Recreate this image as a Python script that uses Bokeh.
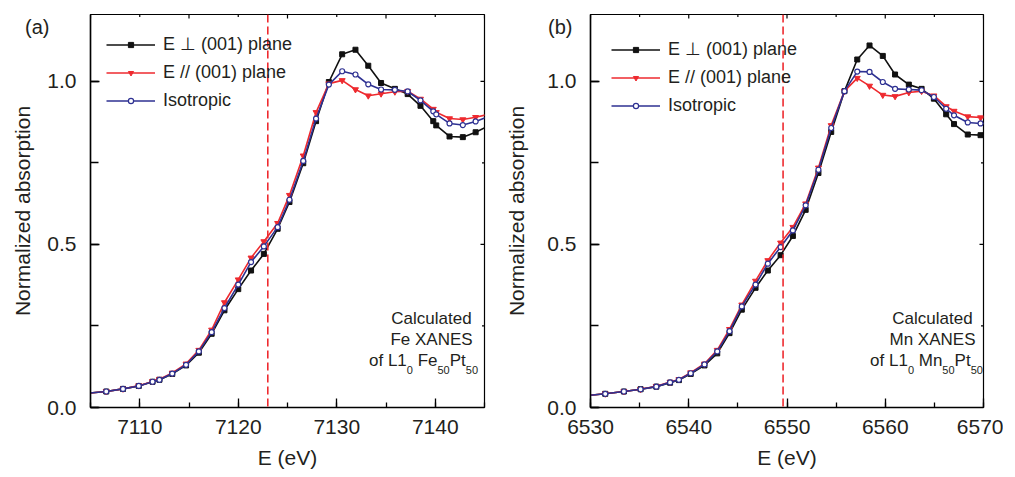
from bokeh.plotting import figure
from bokeh.layouts import row
from bokeh.models import (LinearAxis, SingleIntervalTicker, FixedTicker, NumeralTickFormatter,
                          Span, Legend, LegendItem, Range1d, Label)
from bokeh.embed import file_html
from bokeh.resources import INLINE

# ---------------- data ----------------
labels = ["E \u22a5 (001) plane", "E // (001) plane", "Isotropic"]

E_fe = [7104.0, 7106.6, 7108.3, 7109.9, 7111.3, 7112.0, 7113.3, 7114.7, 7116.0, 7117.3,
        7118.6, 7120.0, 7121.3, 7122.6, 7124.0, 7125.2, 7126.6, 7127.9, 7129.2, 7130.55,
        7131.9, 7133.2, 7134.5, 7135.9, 7137.2, 7138.5, 7139.8, 7140.1, 7141.45, 7142.8,
        7144.1, 7145.4]
fe_perp = [0.042, 0.049, 0.057, 0.066, 0.079, 0.085, 0.103, 0.129, 0.168, 0.226,
           0.298, 0.363, 0.420, 0.471, 0.548, 0.630, 0.749, 0.878, 0.998, 1.083,
           1.097, 1.048, 0.995, 0.977, 0.961, 0.925, 0.878, 0.865, 0.831, 0.829,
           0.844, 0.863]
fe_par = [0.042, 0.049, 0.057, 0.067, 0.080, 0.087, 0.106, 0.134, 0.176, 0.238,
          0.322, 0.392, 0.459, 0.509, 0.565, 0.651, 0.772, 0.905, 0.993, 1.003,
          0.975, 0.956, 0.962, 0.968, 0.970, 0.946, 0.915, 0.905, 0.886, 0.883,
          0.890, 0.899]
fe_iso = [0.042, 0.049, 0.057, 0.066, 0.079, 0.085, 0.104, 0.131, 0.172, 0.231,
          0.305, 0.377, 0.446, 0.494, 0.553, 0.637, 0.756, 0.886, 0.990, 1.031,
          1.021, 0.991, 0.975, 0.974, 0.969, 0.942, 0.908, 0.899, 0.871, 0.866,
          0.877, 0.892]

E_mn = [6528.5, 6531.5, 6533.4, 6535.1, 6536.7, 6538.1, 6539.0, 6540.2, 6541.6, 6542.9,
        6544.15, 6545.4, 6546.8, 6548.05, 6549.35, 6550.6, 6551.9, 6553.2, 6554.5, 6555.85,
        6557.15, 6558.4, 6559.75, 6561.0, 6562.4, 6563.7, 6564.95, 6566.2, 6567.0, 6568.4,
        6569.7, 6571.0]
mn_perp = [0.033, 0.042, 0.049, 0.056, 0.064, 0.076, 0.084, 0.103, 0.129, 0.166,
           0.228, 0.300, 0.367, 0.420, 0.467, 0.526, 0.606, 0.719, 0.845, 0.970,
           1.067, 1.110, 1.078, 1.021, 0.990, 0.977, 0.947, 0.899, 0.869, 0.837,
           0.835, 0.834]
mn_par = [0.033, 0.042, 0.049, 0.056, 0.065, 0.078, 0.086, 0.107, 0.134, 0.176,
          0.240, 0.315, 0.388, 0.451, 0.505, 0.553, 0.625, 0.735, 0.865, 0.970,
          1.010, 0.986, 0.958, 0.954, 0.966, 0.970, 0.956, 0.923, 0.909, 0.892,
          0.889, 0.888]
mn_iso = [0.033, 0.042, 0.049, 0.056, 0.064, 0.077, 0.085, 0.105, 0.132, 0.172,
          0.234, 0.310, 0.377, 0.441, 0.492, 0.543, 0.620, 0.729, 0.857, 0.970,
          1.030, 1.029, 0.998, 0.977, 0.975, 0.973, 0.952, 0.916, 0.896, 0.874,
          0.871, 0.870]

ann_fe_title = ["Calculated", "Fe XANES"]
ann_mn_title = ["Calculated", "Mn XANES"]
# (text, is_subscript)
ann_fe_formula = [("of L1", False), ("0", True), ("Fe", False), ("50", True),
                  ("Pt", False), ("50", True)]
ann_mn_formula = [("of L1", False), ("0", True), ("Mn", False), ("50", True),
                  ("Pt", False), ("50", True)]

FONT = "Liberation Sans"
TXT = "#231f20"
BLACK = "#111111"
RED = "#ee2a2f"
BLUE = "#2e3192"

# approximate Arial advance widths (per 1000 em) for layout of the formula pieces
AW = {"o": 556, "f": 278, " ": 278, "L": 556, "1": 556, "0": 556, "5": 556, "F": 611,
      "e": 556, "P": 667, "t": 278, "M": 833, "n": 556}
MAIN_FS = 17
SUB_FS = 11

FH = 393
Y_END = 1.205


def tw(s, fs):
    return sum(AW.get(c, 556) for c in s) * fs / 1000.0


def make_panel(E, perp, par, iso, xr, edge, title_lines, formula, tag, title_cx, formula_cx,
               legend_margin, right_border, left_border, fw,
               tag_standoff, ylab_standoff):
    p = figure(output_backend="svg", toolbar_location=None,
               frame_width=fw, frame_height=FH,
               min_border_left=left_border, min_border_right=right_border,
               min_border_top=14, min_border_bottom=62,
               x_range=Range1d(*xr), y_range=Range1d(0, Y_END),
               x_axis_label="E (eV)")
    p.grid.visible = False
    p.outline_line_color = "black"
    p.outline_line_width = 1.2
    p.background_fill_color = "white"
    p.border_fill_color = "white"

    xt = SingleIntervalTicker(interval=10, num_minor_ticks=2)
    yt = SingleIntervalTicker(interval=0.5, num_minor_ticks=2)
    p.xaxis.ticker = xt
    p.yaxis.ticker = yt
    p.yaxis.formatter = NumeralTickFormatter(format="0.0")

    for ax in (p.xaxis[0], p.yaxis[0]):
        ax.axis_line_width = 1.5
        ax.major_tick_out = 0
        ax.minor_tick_out = 0
        ax.major_tick_in = 9
        ax.major_tick_line_width = 1.3
        ax.minor_tick_line_width = 1.3
        ax.major_label_text_font = FONT
        ax.major_label_text_font_size = "21px"
        ax.major_label_text_color = TXT
        ax.axis_label_text_font = FONT
        ax.axis_label_text_font_size = "21px"
        ax.axis_label_text_font_style = "normal"
        ax.axis_label_text_color = TXT
    p.xaxis[0].minor_tick_in = 5
    p.yaxis[0].minor_tick_in = 8
    p.xaxis[0].major_label_standoff = 12
    p.xaxis[0].axis_label_standoff = 9
    p.yaxis[0].major_label_standoff = 14

    # outer left axis: carries the panel tag and the y-axis title
    tag_y = 1.166
    tag_axis = LinearAxis(ticker=FixedTicker(ticks=[tag_y], minor_ticks=[]),
                          major_label_overrides={tag_y: tag},
                          axis_line_alpha=0, major_tick_in=0, major_tick_out=0,
                          minor_tick_in=0, minor_tick_out=0,
                          major_label_standoff=tag_standoff,
                          major_label_text_font=FONT, major_label_text_font_size="20px",
                          major_label_text_color=TXT,
                          axis_label="Normalized absorption",
                          axis_label_standoff=ylab_standoff,
                          axis_label_text_font=FONT, axis_label_text_font_size="21px",
                          axis_label_text_font_style="normal", axis_label_text_color=TXT)
    p.add_layout(tag_axis, "left")

    # mirrored inward ticks on top and right spines
    pxx = fw / (xr[1] - xr[0])
    pxy = FH / Y_END
    xmaj = list(range(int(xr[0]), int(xr[1]) + 1, 10))
    xmin = [v + 5 for v in xmaj if v + 5 <= xr[1]] + [v - 5 for v in xmaj[:1] if v - 5 >= xr[0]]
    p.segment(x0=xmaj, y0=[Y_END] * len(xmaj), x1=xmaj, y1=[Y_END - 4 / pxy] * len(xmaj),
              line_color="black", line_width=1.2)
    p.segment(x0=xmin, y0=[Y_END] * len(xmin), x1=xmin, y1=[Y_END - 2.5 / pxy] * len(xmin),
              line_color="black", line_width=1.2)
    ymaj = [0.0, 0.5, 1.0]
    ymin = [0.25, 0.75]
    p.segment(x0=[xr[1]] * 3, y0=ymaj, x1=[xr[1] - 4 / pxx] * 3, y1=ymaj,
              line_color="black", line_width=1.2)
    p.segment(x0=[xr[1]] * 2, y0=ymin, x1=[xr[1] - 2.5 / pxx] * 2, y1=ymin,
              line_color="black", line_width=1.2)

    span = Span(location=edge, dimension="height", line_color=RED,
                line_dash="8 4", line_width=1.6)
    p.add_layout(span)

    l1 = p.line(E, perp, line_color=BLACK, line_width=1.6)
    m1 = p.scatter(E, perp, marker="square", size=5, fill_color=BLACK, line_color=BLACK)
    l2 = p.line(E, par, line_color=RED, line_width=1.6)
    m2 = p.scatter(E, par, marker="inverted_triangle", size=6, fill_color=RED, line_color=RED)
    l3 = p.line(E, iso, line_color=BLUE, line_width=1.6)
    m3 = p.scatter(E, iso, marker="circle", size=5, fill_color="white", line_color=BLUE,
                   line_width=1.2)

    legend = Legend(items=[LegendItem(label=labels[0], renderers=[l1, m1]),
                           LegendItem(label=labels[1], renderers=[l2, m2]),
                           LegendItem(label=labels[2], renderers=[l3, m3])],
                    location="top_left", margin=legend_margin, padding=8,
                    border_line_alpha=0, background_fill_alpha=0,
                    glyph_width=49, glyph_height=13, label_height=28, spacing=0,
                    label_standoff=8, label_text_font=FONT,
                    label_text_font_size="18px", label_text_color=TXT)
    p.add_layout(legend)

    # annotation block (centres in screen px from frame left / top)
    row_px = [304, 325]
    for t, rp in zip(title_lines, row_px):
        p.add_layout(Label(x=xr[0] + title_cx / pxx, y=Y_END - rp / pxy, text=t,
                           text_align="center", text_baseline="middle", text_font=FONT,
                           text_font_size=f"{MAIN_FS}px", text_color=TXT))
    # formula line with subscripts
    cx = xr[0] + formula_cx / pxx
    gap = tw(" ", MAIN_FS)
    total = 0.0
    for i, (t, sub) in enumerate(formula):
        total += tw(t, SUB_FS if sub else MAIN_FS)
        if sub and i < 2:
            total += gap
    xoff = -total / 2.0
    main_row = 346
    for i, (t, sub) in enumerate(formula):
        fs = SUB_FS if sub else MAIN_FS
        yy = Y_END - (main_row + (9 if sub else 0)) / pxy
        p.add_layout(Label(x=cx, y=yy, x_offset=xoff, text=t, text_align="left",
                           text_baseline="middle", text_font=FONT,
                           text_font_size=f"{fs}px", text_color=TXT))
        xoff += tw(t, fs)
        if sub and i < 2:
            xoff += gap
    return p


p1 = make_panel(E_fe, fe_perp, fe_par, fe_iso, (7105, 7145), 7123.0,
                ann_fe_title, ann_fe_formula, "(a)", 341, 333,
                8, 17, 90, 394, -5, -12)
p2 = make_panel(E_mn, mn_perp, mn_par, mn_iso, (6530, 6570), 6549.6,
                ann_mn_title, ann_mn_formula, "(b)", 342, 336,
                13, 20, 89, 393, -28, 17)

layout = row(p1, p2)
open("out.html", "w").write(file_html(layout, INLINE))
